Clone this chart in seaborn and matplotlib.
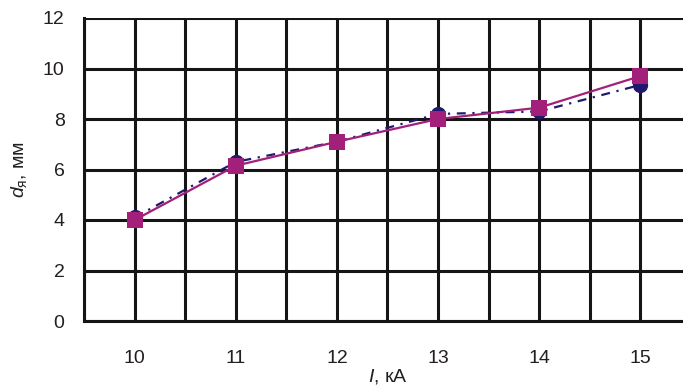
import numpy as np
import pandas as pd
import matplotlib
matplotlib.use("Agg")
import matplotlib.pyplot as plt
import seaborn as sns

# данные
currents = ["10", "11", "12", "13", "14", "15"]
d_circle = [4.1, 6.3, 7.1, 8.2, 8.3, 9.35]
d_square = [4.0, 6.15, 7.1, 8.0, 8.45, 9.7]

sns.set_style("white")
plt.rcParams["font.family"] = ["Liberation Sans", "DejaVu Sans"]
plt.rcParams["mathtext.fontset"] = "custom"
plt.rcParams["mathtext.rm"] = "Liberation Sans"
plt.rcParams["mathtext.it"] = "Liberation Sans:italic"

pos = np.arange(len(currents))
df = pd.DataFrame({"pos": np.concatenate([pos, pos]),
                   "d": d_circle + d_square,
                   "s": ["c"] * len(pos) + ["s"] * len(pos)})

fig = plt.figure(figsize=(6.83, 3.91), dpi=100)
ax = fig.add_axes([84 / 683, 70 / 391, 607 / 683, 303 / 391])

sns.lineplot(data=df[df.s == "c"], x="pos", y="d", ax=ax, color="#1f1a6b",
             linestyle=(0, (4, 3, 1, 3)), linewidth=1.6, marker="o",
             markersize=11, markeredgewidth=0, clip_on=False)
sns.lineplot(data=df[df.s == "s"], x="pos", y="d", ax=ax, color="#a2207a",
             linewidth=1.6, marker="s", markersize=11, markeredgewidth=0,
             clip_on=False)

ax.set_xlim(-0.5, len(currents) - 0.5)
ax.set_ylim(0, 12)
ax.set_yticks(range(0, 13, 2))
ax.set_xticks(pos)
ax.set_xticklabels(currents)
ax.set_xticks(np.arange(-0.5, len(currents), 1), minor=True)

ax.grid(True, which="major", color="#151515", linewidth=2.2)
ax.grid(True, which="minor", axis="x", color="#151515", linewidth=2.2)
ax.set_axisbelow(True)

for side in ["top", "right"]:
    ax.spines[side].set_visible(False)
for side in ["left", "bottom"]:
    ax.spines[side].set_color("#151515")
    ax.spines[side].set_linewidth(2.2)

ax.tick_params(axis="x", which="major", length=0, pad=21, labelsize=14,
               colors="#231f20")
ax.tick_params(axis="x", which="minor", length=6, width=2, direction="out",
               color="#151515")
ax.tick_params(axis="y", length=6, width=2, direction="out", color="#151515",
               labelsize=14, labelcolor="#231f20", pad=8)

ax.set_xlabel(r"$\mathit{I}$, кА", fontsize=14, color="#231f20", labelpad=0)
ax.set_ylabel(r"$\mathit{d}_{\mathrm{я}}$, мм", fontsize=14,
              color="#231f20", labelpad=10)

fig.savefig("out.png", dpi=100)
